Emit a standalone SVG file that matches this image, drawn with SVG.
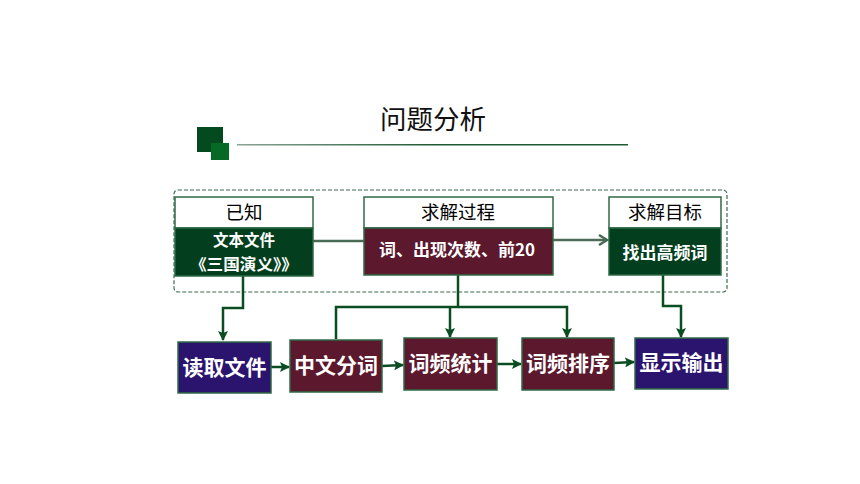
<svg xmlns="http://www.w3.org/2000/svg" width="860" height="484" viewBox="0 0 860 484">
<defs>
<linearGradient id="lg" x1="0" y1="0" x2="1" y2="0">
<stop offset="0" stop-color="#8aa594"/>
<stop offset="0.5" stop-color="#1e5a34"/>
<stop offset="1" stop-color="#1e5a34"/>
</linearGradient>
<marker id="ah" viewBox="0 0 10 10" refX="9" refY="5" markerWidth="10" markerHeight="10" markerUnits="userSpaceOnUse" orient="auto">
<path d="M0,0 L10,5 L0,10 L2,5 Z" fill="#0b4d22"/>
</marker>
<marker id="ah2" viewBox="0 0 12 12" refX="10" refY="6" markerWidth="12" markerHeight="12" markerUnits="userSpaceOnUse" orient="auto">
<path d="M2,1 L10,6 L2,11" fill="none" stroke="#4a6b55" stroke-width="2.5"/>
</marker>
<style>
.hdr{fill:#ffffff;stroke:#2f6a45;stroke-width:1.5}
.g{fill:#033f1e;stroke:#2f6a45;stroke-width:1.5}
.m{fill:#5c182d;stroke:#2f6a45;stroke-width:1.5}
.p{fill:#2b146d;stroke:#2f6a45;stroke-width:1.5}
.ht{font-family:"Noto Sans CJK SC","Liberation Sans",sans-serif;font-size:18.5px;fill:#000;text-anchor:middle}
.bt{font-family:"Noto Sans CJK SC","Liberation Sans",sans-serif;font-size:17px;font-weight:bold;fill:#fff;text-anchor:middle}
.bt2{font-family:"Noto Sans CJK SC","Liberation Sans",sans-serif;font-size:15.5px;font-weight:bold;fill:#fff;text-anchor:middle}
.st{font-family:"Noto Sans CJK SC","Liberation Sans",sans-serif;font-size:21px;font-weight:bold;fill:#fff;text-anchor:middle}
.c{fill:none;stroke:#0b4d22;stroke-width:2.5}
</style>
</defs>
<g id="title">
<text x="433" y="129" font-family="Noto Sans CJK SC, Liberation Sans, sans-serif" font-size="26.5" fill="#111" text-anchor="middle">问题分析</text>
<rect x="197" y="127" width="26" height="25" fill="#034a1f"/>
<rect x="211" y="143" width="18" height="17" fill="#066a26"/>
<rect x="237" y="144" width="391" height="1.5" fill="url(#lg)"/>
</g>
<g id="container">
<rect x="174" y="190" width="553" height="102" rx="4" fill="none" stroke="#3d6b4f" stroke-width="1.2" stroke-dasharray="4,2"/>
</g>
<g id="connectors">
<line x1="313" y1="241" x2="364" y2="241" stroke="#4a6b55" stroke-width="2.5"/>
<line x1="553" y1="240" x2="607" y2="240" stroke="#4a6b55" stroke-width="2.5" marker-end="url(#ah2)"/>
<polyline class="c" points="243,276 243,308 223,308 223,340" marker-end="url(#ah)"/>
<polyline class="c" points="458,275 458,307"/>
<polyline class="c" points="336,339 336,307 567,307 567,337" marker-end="url(#ah)"/>
<line class="c" x1="450" y1="307" x2="450" y2="337" marker-end="url(#ah)"/>
<polyline class="c" points="663,275 663,306 681,306 681,337" marker-end="url(#ah)"/>
<line class="c" x1="271" y1="367" x2="289" y2="367" marker-end="url(#ah)"/>
<line class="c" x1="382" y1="366" x2="403" y2="365" marker-end="url(#ah)"/>
<line class="c" x1="497" y1="364" x2="521" y2="364" marker-end="url(#ah)"/>
<line class="c" x1="614" y1="363" x2="634" y2="362" marker-end="url(#ah)"/>
</g>
<g id="known">
<rect class="hdr" x="175" y="197" width="138" height="31"/>
<text class="ht" x="244" y="219">已知</text>
<rect class="g" x="175" y="228" width="138" height="48"/>
<text class="bt2" x="244" y="246">文本文件</text>
<text class="bt2" x="244" y="270" textLength="108" lengthAdjust="spacingAndGlyphs">《三国演义》》</text>
</g>
<g id="process">
<rect class="hdr" x="364" y="197" width="189" height="31"/>
<text class="ht" x="458" y="219">求解过程</text>
<rect class="m" x="364" y="228" width="189" height="47"/>
<text class="bt" x="457" y="256">词、出现次数、前20</text>
</g>
<g id="goal">
<rect class="hdr" x="609" y="197" width="112" height="31"/>
<text class="ht" x="665" y="219">求解目标</text>
<rect class="g" x="609" y="228" width="112" height="47"/>
<text class="bt" x="665" y="259">找出高频词</text>
</g>
<g id="read">
<rect class="p" x="178" y="342" width="93" height="51"/>
<text class="st" x="224.5" y="375">读取文件</text>
</g>
<g id="segment">
<rect class="m" x="290" y="340" width="92" height="52"/>
<text class="st" x="336" y="373">中文分词</text>
</g>
<g id="count">
<rect class="m" x="404" y="338" width="93" height="52"/>
<text class="st" x="450.5" y="371">词频统计</text>
</g>
<g id="sort">
<rect class="m" x="522" y="338" width="92" height="52"/>
<text class="st" x="568" y="371">词频排序</text>
</g>
<g id="output">
<rect class="p" x="635" y="338" width="93" height="51"/>
<text class="st" x="681.5" y="370">显示输出</text>
</g>
</svg>
